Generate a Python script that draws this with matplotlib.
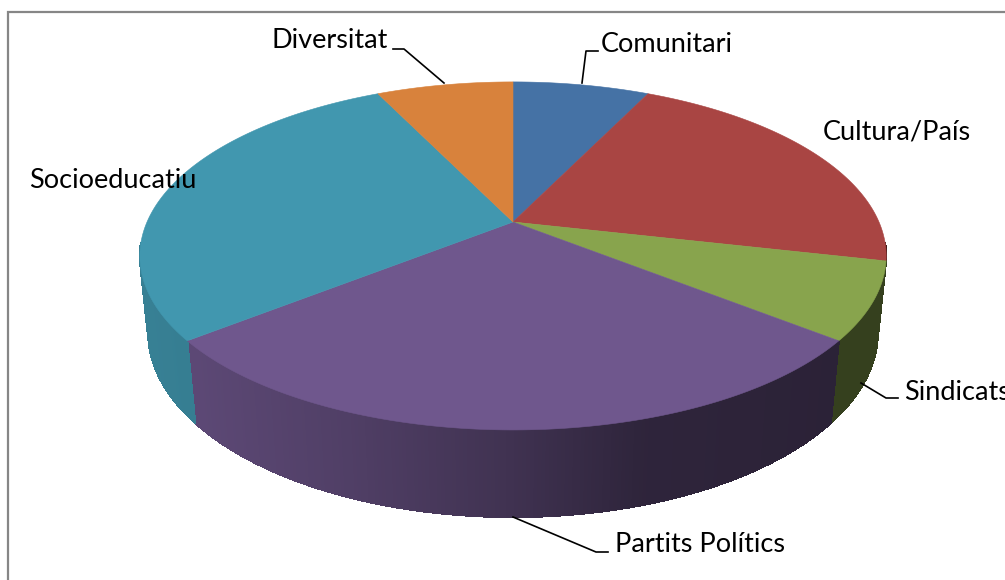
"""3D-look pie of organisation types, drawn by hand in pixel coordinates."""
import matplotlib
matplotlib.use("Agg")
import matplotlib.pyplot as plt
from matplotlib.collections import PolyCollection
from matplotlib.colors import to_rgb
from matplotlib.patches import Polygon
import numpy as np

plt.rcParams["font.family"] = ["Lato", "DejaVu Sans"]

# slices, clockwise from 12 o'clock
categories = ["Comunitari", "Cultura/País", "Sindicats", "Partits Polítics",
              "Socioeducatiu", "Diversitat"]
values = [1, 3, 1, 4, 4, 1]
colors = ["#4572a5", "#a94543", "#88a44d", "#6f578d", "#4197af", "#d8823c"]

# label left edge / vertical centre, in pixels
label_x = [601, 823, 904, 615, 29, 272]
label_y = [44, 132, 392, 544, 180, 41]

# leader lines, in pixels
leaders = [
    [(582, 83), (586, 51), (598, 51)],
    [(861, 383), (886, 398), (898, 398)],
    [(513, 517), (596, 552), (608, 552)],
    [(393, 49), (404, 49), (444, 83)],
]

# perspective of the disc
CX, CY = 513, 222
RX, RY = 366, 167.4
K = 0.195
DEPTH_W, DEPTH_H = 0.022, 76.6


def project(theta, depth=False):
    u, v = np.sin(theta), np.cos(theta)
    w = 1 + K * v
    if depth:
        return (CX + RX * u / (w + DEPTH_W),
                CY + (DEPTH_H - RY * v) / (w + DEPTH_W))
    return CX + RX * u / w, CY - RY * v / w


def wall_shade(x):
    # side wall gets darker from left to right
    return np.interp(x, [140, 197, 350, 505, 640, 830, 890],
                     [0.85, 0.83, 0.72, 0.58, 0.42, 0.39, 0.39])


fig = plt.figure(figsize=(10.05, 5.80), dpi=100)
ax = fig.add_axes([0, 0, 1, 1])
ax.set_xlim(0, 1005)
ax.set_ylim(580, 0)
ax.axis("off")

# chart frame: only top and left fall inside the crop
ax.plot([8, 8, 1005], [580, 12, 12], color="#868686", lw=1.6,
        solid_joinstyle="miter", zorder=1)

edges = np.radians(np.concatenate([[0], np.cumsum(values)]) / np.sum(values) * 360)

# side walls first
for i, col in enumerate(colors):
    lo, hi = max(edges[i], np.radians(97)), min(edges[i + 1], np.radians(263))
    if hi <= lo:
        continue
    th = np.linspace(lo, hi, int(np.degrees(hi - lo) * 2) + 2)
    x0, y0 = project(th)
    x1, y1 = project(th, depth=True)
    polys, facecols = [], []
    base = np.array(to_rgb(col))
    for j in range(len(th) - 1):
        polys.append([(x0[j], y0[j]), (x0[j + 1], y0[j + 1]),
                      (x1[j + 1], y1[j + 1]), (x1[j], y1[j])])
        facecols.append(base * wall_shade((x0[j] + x1[j + 1]) / 2))
    ax.add_collection(PolyCollection(polys, facecolors=facecols, edgecolors=facecols,
                                     linewidths=0.8, antialiaseds=False, zorder=2))

# top face
for i, col in enumerate(colors):
    th = np.linspace(edges[i], edges[i + 1], 120)
    x, y = project(th)
    pts = np.column_stack([np.r_[CX, x], np.r_[CY, y]])
    ax.add_patch(Polygon(pts, closed=True, facecolor=col, edgecolor=col, lw=0.4, zorder=3))

for pts in leaders:
    xs, ys = zip(*pts)
    ax.plot(xs, ys, color="black", lw=1.2, zorder=4)

for name, lx, ly in zip(categories, label_x, label_y):
    ax.text(lx, ly, name, fontsize=19.5, color="black", ha="left", va="center", zorder=5)

fig.savefig("out.png", dpi=100)
